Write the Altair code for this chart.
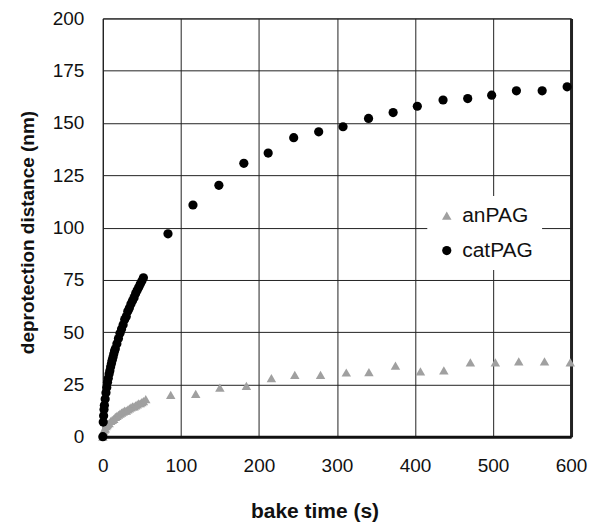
import altair as alt
import pandas as pd

# ---- data ----
an_time = [0, 1, 2, 3, 4, 5, 6, 8, 10, 12, 14, 16, 18, 20, 22, 24, 26, 28, 30, 32,
           34, 36, 38, 40, 42, 44, 46, 48, 50, 52, 55,
           87, 119, 150, 184, 216, 246, 279, 312, 341, 375, 407, 437, 471, 503, 533, 566, 599]
an_dist = [0, 2.5, 3.5, 4, 5, 5.5, 6, 6.5, 7.5, 8, 8.5, 9.5, 10, 10.5, 11, 11.5, 12, 12.5, 12.5, 13,
           13.5, 14, 14.5, 14.5, 15, 15.5, 16, 16, 16.5, 17, 18,
           20, 20.5, 23.5, 24.3, 28, 29.6, 29.6, 30.7, 30.9, 34, 31.2, 31.7, 35.5, 35.5, 36, 36, 35.5]

cat_time = [0, 0.5, 1, 1.5, 2, 3, 4, 5, 6, 7, 8, 9, 10, 11, 12, 13, 14, 15, 16, 18,
            20, 22, 24, 26, 28, 30, 32, 34, 36, 38, 40, 42, 44, 46, 48, 50, 52,
            83.5, 115.5, 148.7, 180.7, 211.9, 244.6, 276.6, 307.8, 340.5, 372, 403, 436,
            467.6, 498.3, 530, 563, 595]
cat_dist = [0, 7, 10, 13, 15, 18, 21, 23.5, 26, 28, 30, 31.5, 33.5, 35, 36.5, 38, 39.5, 41, 42, 44.5,
            47, 49.5, 51.5, 53.5, 56, 57.5, 60, 61.5, 63.5, 65, 66.5, 68.5, 70, 71.5, 73, 74.5, 76,
            97, 110.8, 120.2, 130.7, 135.6, 143, 145.8, 148.2, 152.2, 155, 158, 161,
            161.7, 163.3, 165.4, 165.4, 167.3]

series = ["anPAG", "catPAG"]
x_ticks = [0, 100, 200, 300, 400, 500, 600]
y_ticks = [0, 25, 50, 75, 100, 125, 150, 175, 200]

df = pd.concat([
    pd.DataFrame({"t": an_time, "d": an_dist, "series": "anPAG"}),
    pd.DataFrame({"t": cat_time, "d": cat_dist, "series": "catPAG"}),
], ignore_index=True)
df["order"] = range(len(df))

FONT = "Liberation Sans"


def make_legend():
    return alt.Legend(title=None, orient="none", legendX=325, legendY=178,
                      fillColor="white", padding=9, rowPadding=13,
                      labelFontSize=21, labelColor="#111", labelOffset=5,
                      symbolStrokeWidth=0, symbolOpacity=1)


chart = alt.Chart(df).mark_point(filled=True, opacity=1, strokeWidth=0).encode(
    x=alt.X("t:Q", scale=alt.Scale(domain=[0, 600], nice=False, zero=True),
            axis=alt.Axis(values=x_ticks, title="bake time (s)", ticks=False, labelFlush=False,
                          labelPadding=20, labelFontSize=19, labelColor="#111",
                          titleFontSize=21, titleFontWeight="bold", titleColor="#111",
                          titleX=212, titleY=75, titleBaseline="middle", titleAlign="center",
                          domainColor="#111", domainWidth=3,
                          gridColor="#222",
                          gridWidth={"condition": {"test": "datum.value === 600", "value": 3}, "value": 1})),
    y=alt.Y("d:Q", scale=alt.Scale(domain=[0, 200], nice=False),
            axis=alt.Axis(values=y_ticks, title="deprotection distance (nm)", ticks=False, labelFlush=False,
                          labelPadding=19, labelFontSize=19, labelColor="#111",
                          titleFontSize=19, titleFontWeight="bold", titleColor="#111",
                          titleX=-75, titleY=214, titleBaseline="middle", titleAlign="center",
                          domainColor="#222", domainWidth=1,
                          gridColor="#222", gridWidth=1)),
    shape=alt.Shape("series:N", scale=alt.Scale(domain=series, range=["triangle-up", "circle"]),
                    legend=make_legend()),
    color=alt.Color("series:N", scale=alt.Scale(domain=series, range=["#a0a0a0", "#000000"]),
                    legend=make_legend()),
    size=alt.Size("series:N", scale=alt.Scale(domain=series, range=[90, 85]),
                  legend=make_legend()),
    order=alt.Order("order:Q"),
).properties(
    width=469, height=419,
    autosize=alt.AutoSizeParams(type="none"),
    padding={"left": 95, "top": 10, "right": 20, "bottom": 86},
).configure(font=FONT).configure_view(stroke="#222", strokeWidth=1)

chart.save("out.html", embed_options={"renderer": "svg", "actions": False})
